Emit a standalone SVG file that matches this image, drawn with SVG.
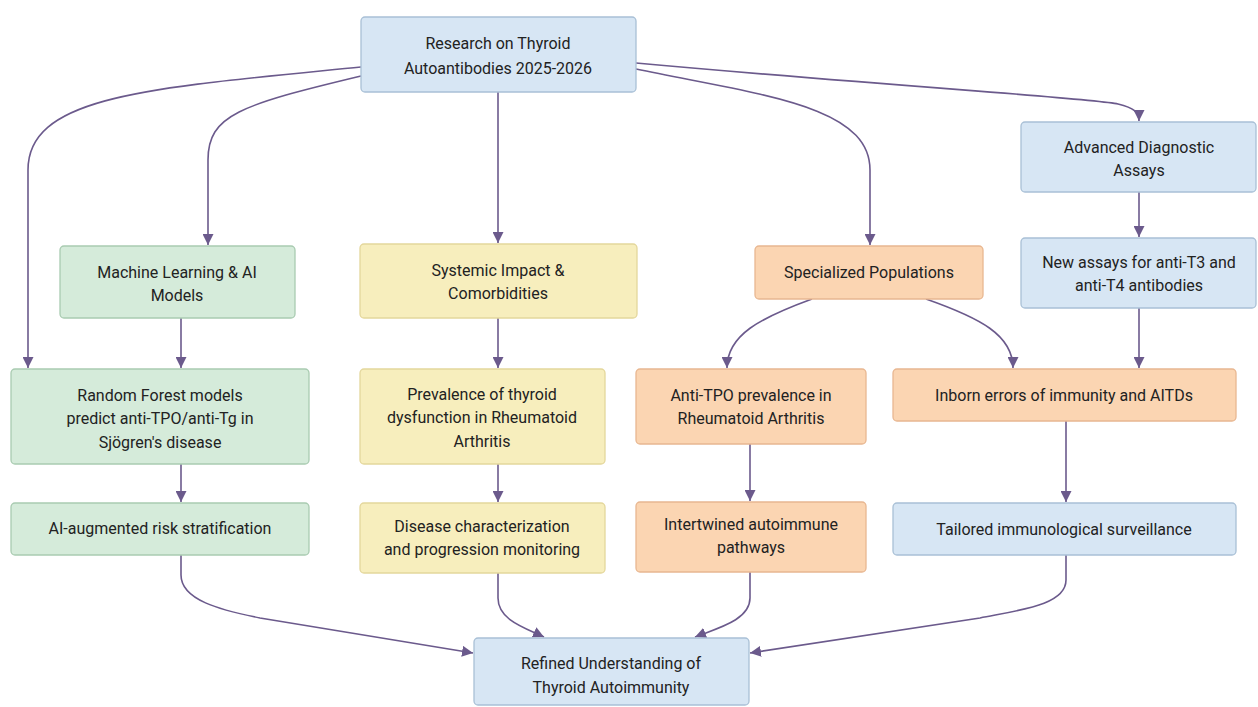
<svg xmlns="http://www.w3.org/2000/svg" width="1258" height="707" viewBox="0 0 1258 707">
<style>
.box{stroke-width:1.3}
.blue{fill:#d7e6f4;stroke:#a9c0d6}
.green{fill:#d5ebda;stroke:#a9cbb1}
.yellow{fill:#f7eebd;stroke:#e4d79c}
.orange{fill:#fbd5b2;stroke:#e8b791}
text{font-family:Roboto,"Liberation Sans",sans-serif;font-size:16px;fill:#222;text-anchor:middle}
.conn{fill:none;stroke:#6b5a8c;stroke-width:1.6}
</style>
<defs>
<marker id="ah" viewBox="0 0 10 10" refX="10" refY="5" markerWidth="11" markerHeight="11" markerUnits="userSpaceOnUse" orient="auto">
<path d="M0,0 L10,5 L0,10 z" fill="#6b5a8c"/>
</marker>
</defs>
<rect width="1258" height="707" fill="#ffffff"/>
<g id="connectors">
<path class="conn" marker-end="url(#ah)" d="M361,67 C150,88 28,95 28,170 L28,368"/>
<path class="conn" marker-end="url(#ah)" d="M361,76 C240,105 208,115 208,160 L208,245"/>
<path class="conn" marker-end="url(#ah)" d="M498,92 L498,243"/>
<path class="conn" marker-end="url(#ah)" d="M636,69 C760,95 870,105 870,170 L870,245"/>
<path class="conn" marker-end="url(#ah)" d="M636,63 C900,87 1095,98 1118,104 C1134,108 1139,112 1139,121"/>
<path class="conn" marker-end="url(#ah)" d="M1139,192 L1139,237"/>
<path class="conn" marker-end="url(#ah)" d="M181,318 L181,368"/>
<path class="conn" marker-end="url(#ah)" d="M498,318 L498,368"/>
<path class="conn" marker-end="url(#ah)" d="M812,299 C760,318 727,335 727,368"/>
<path class="conn" marker-end="url(#ah)" d="M926,299 C980,318 1013,335 1013,368"/>
<path class="conn" marker-end="url(#ah)" d="M1139,308 L1139,368"/>
<path class="conn" marker-end="url(#ah)" d="M181,464 L181,502"/>
<path class="conn" marker-end="url(#ah)" d="M498,464 L498,502"/>
<path class="conn" marker-end="url(#ah)" d="M750,444 L750,501"/>
<path class="conn" marker-end="url(#ah)" d="M1066,421 L1066,502"/>
<path class="conn" marker-end="url(#ah)" d="M181,555 L181,575 C181,600 220,610 260,618 L473,653"/>
<path class="conn" marker-end="url(#ah)" d="M498,573 L498,598 C498,620 525,628 544,637"/>
<path class="conn" marker-end="url(#ah)" d="M750,572 L750,598 C750,620 718,628 695,637"/>
<path class="conn" marker-end="url(#ah)" d="M1066,555 L1066,580 C1066,605 1020,610 980,618 L750,653"/>
</g>
<g id="top">
<rect class="box blue" x="361" y="17" width="275" height="75" rx="4"/>
<text x="498" y="49">Research on Thyroid</text>
<text x="498" y="74">Autoantibodies 2025-2026</text>
</g>
<g id="ml">
<rect class="box green" x="60" y="246" width="235" height="72" rx="4"/>
<text x="177" y="278">Machine Learning &amp; AI</text>
<text x="177" y="301">Models</text>
</g>
<g id="systemic">
<rect class="box yellow" x="360" y="244" width="277" height="74" rx="4"/>
<text x="498" y="276">Systemic Impact &amp;</text>
<text x="498" y="299">Comorbidities</text>
</g>
<g id="specialized">
<rect class="box orange" x="755" y="246" width="228" height="53" rx="4"/>
<text x="869" y="278">Specialized Populations</text>
</g>
<g id="advanced">
<rect class="box blue" x="1021" y="122" width="235" height="70" rx="4"/>
<text x="1139" y="153">Advanced Diagnostic</text>
<text x="1139" y="176">Assays</text>
</g>
<g id="newassays">
<rect class="box blue" x="1021" y="238" width="235" height="70" rx="4"/>
<text x="1139" y="268">New assays for anti-T3 and</text>
<text x="1139" y="291">anti-T4 antibodies</text>
</g>
<g id="randomforest">
<rect class="box green" x="11" y="369" width="298" height="95" rx="4"/>
<text x="160" y="401">Random Forest models</text>
<text x="160" y="424">predict anti-TPO/anti-Tg in</text>
<text x="160" y="448">Sjögren's disease</text>
</g>
<g id="prevalence">
<rect class="box yellow" x="360" y="369" width="245" height="95" rx="4"/>
<text x="482" y="400">Prevalence of thyroid</text>
<text x="482" y="423">dysfunction in Rheumatoid</text>
<text x="482" y="447">Arthritis</text>
</g>
<g id="antitpo">
<rect class="box orange" x="636" y="369" width="230" height="75" rx="4"/>
<text x="751" y="401">Anti-TPO prevalence in</text>
<text x="751" y="424">Rheumatoid Arthritis</text>
</g>
<g id="inborn">
<rect class="box orange" x="893" y="369" width="343" height="52" rx="4"/>
<text x="1064" y="401">Inborn errors of immunity and AITDs</text>
</g>
<g id="aiaug">
<rect class="box green" x="11" y="503" width="298" height="52" rx="4"/>
<text x="160" y="534">AI-augmented risk stratification</text>
</g>
<g id="disease">
<rect class="box yellow" x="360" y="503" width="245" height="70" rx="4"/>
<text x="482" y="532">Disease characterization</text>
<text x="482" y="555">and progression monitoring</text>
</g>
<g id="intertwined">
<rect class="box orange" x="636" y="502" width="230" height="70" rx="4"/>
<text x="751" y="530">Intertwined autoimmune</text>
<text x="751" y="553">pathways</text>
</g>
<g id="tailored">
<rect class="box blue" x="893" y="503" width="343" height="52" rx="4"/>
<text x="1064" y="535">Tailored immunological surveillance</text>
</g>
<g id="refined">
<rect class="box blue" x="474" y="638" width="275" height="67" rx="4"/>
<text x="611" y="669">Refined Understanding of</text>
<text x="611" y="693">Thyroid Autoimmunity</text>
</g>
</svg>
